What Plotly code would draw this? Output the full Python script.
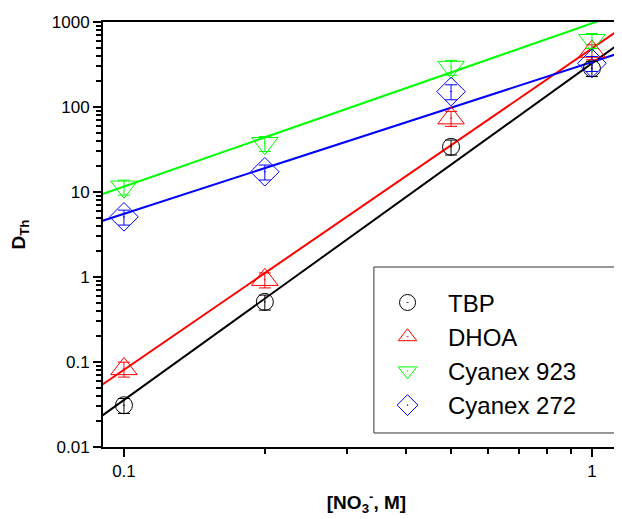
import numpy as np
import plotly.graph_objects as go

# ---- data ----
x_conc = [0.1, 0.2, 0.5, 1.0]
series_names = ["TBP", "DHOA", "Cyanex 923", "Cyanex 272"]
d_tbp = [0.031, 0.51, 34, 285]
d_dhoa = [0.083, 0.93, 74, 450]
d_c923 = [11.5, 37.5, 295, 610]
d_c272 = [5.1, 17.3, 152, 327]
err_frac = [0.2, 0.2, 0.2, 0.2]

# fitted lines: value at x=0.1 and log-log slope
fit_at_01 = [0.0358, 0.081, 11.6, 5.54]
fit_slope = [3.96, 3.78, 1.92, 1.785]
fit_x = [0.09, 1.25]

colors = ["black", "red", "#00ff00", "blue"]
symbols = ["circle-open-dot", "triangle-up-open-dot", "triangle-down-open-dot", "diamond-open-dot"]
sizes = [17, 23, 23, 22]

fig = go.Figure()
all_d = [d_tbp, d_dhoa, d_c923, d_c272]

for i, (name, d) in enumerate(zip(series_names, all_d)):
    fx = np.array(fit_x)
    fy = fit_at_01[i] * (fx / 0.1) ** fit_slope[i]
    fig.add_trace(go.Scatter(x=fx, y=fy, mode="lines", line=dict(color=colors[i], width=2),
                             showlegend=False, hoverinfo="skip"))

for i, (name, d) in enumerate(zip(series_names, all_d)):
    err = [v * err_frac[i] for v in d]
    fig.add_trace(go.Scatter(
        x=x_conc, y=d, mode="markers", name=name,
        marker=dict(symbol=symbols[i], size=sizes[i], color=colors[i], line=dict(width=1, color=colors[i])),
        error_y=dict(type="data", array=err, color=colors[i], thickness=1, width=6),
    ))

xminor = [0.2, 0.3, 0.4, 0.5, 0.6, 0.7, 0.8, 0.9]
yminor = [m * 10.0 ** e for e in range(-2, 3) for m in range(2, 10)]

fig.add_shape(type="rect", xref="paper", yref="paper",
              x0=0.514, x1=0.981, y0=0.033, y1=0.4235,
              line=dict(color="#333", width=1), fillcolor="white", layer="above")

fig.update_layout(
    width=622, height=519,
    margin=dict(l=95, r=0, t=14, b=80),
    plot_bgcolor="white", paper_bgcolor="white",
    font=dict(family="Liberation Sans, Arial", color="black"),
    xaxis=dict(
        type="log", range=[np.log10(0.0902), np.log10(1.206)],
        tickvals=[0.1, 1], ticktext=["0.1", "1"],
        ticks="outside", ticklen=8, tickwidth=2, tickcolor="black",
        minor=dict(tickvals=xminor, ticks="outside", ticklen=5, tickwidth=1.5, tickcolor="black"),
        showline=True, linecolor="black", linewidth=2, mirror=True,
        showgrid=False, zeroline=False, automargin=False,
        tickfont=dict(size=17),
        title=dict(text="<b>[NO<sub>3</sub><sup>-</sup>, M]</b>", font=dict(size=19), standoff=15),
    ),
    yaxis=dict(
        type="log", range=[-2, 3],
        tickvals=[0.01, 0.1, 1, 10, 100, 1000], ticktext=["0.01", "0.1", "1", "10", "100", "1000"],
        ticks="outside", ticklen=8, tickwidth=2, tickcolor="black",
        minor=dict(tickvals=yminor, ticks="outside", ticklen=5, tickwidth=1.5, tickcolor="black"),
        showline=True, linecolor="black", linewidth=2, mirror=False,
        showgrid=False, zeroline=False, automargin=False,
        tickfont=dict(size=17),
        title=dict(text="<b>D<sub>Th</sub></b>", font=dict(size=19), standoff=24),
    ),
    legend=dict(
        x=0.501, y=0.392, xanchor="left", yanchor="top",
        bgcolor="rgba(0,0,0,0)", borderwidth=0,
        font=dict(size=24), itemwidth=71,
    ),
)

fig.write_html("out.html")
